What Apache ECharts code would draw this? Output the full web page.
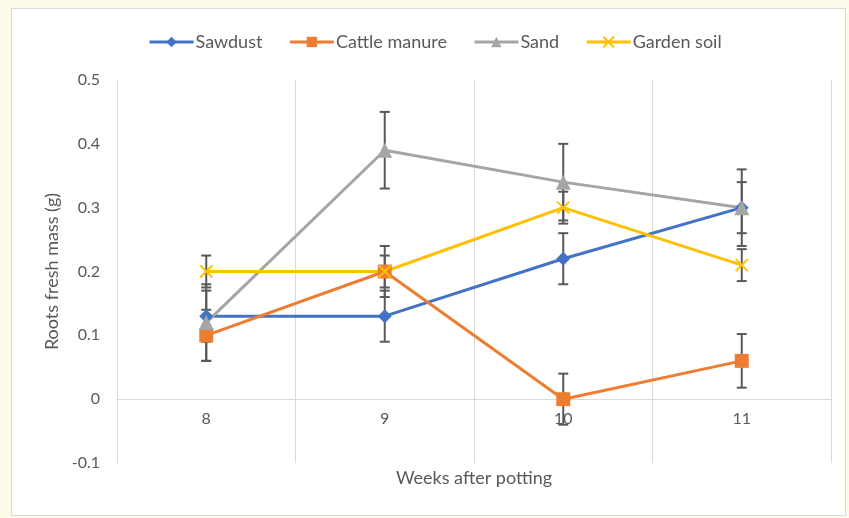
<!DOCTYPE html>
<html>
<head>
<meta charset="utf-8">
<script src="https://cdn.jsdelivr.net/npm/echarts@6/dist/echarts.min.js"></script>
<style>
  html, body { margin: 0; padding: 0; background: #fffbea; }
  #frame { position: absolute; left: 11px; top: 8px; width: 833px; height: 506px;
           background: #ffffff; border: 1px solid #d9d9d9; }
  #chart { position: absolute; left: 0; top: 0; width: 849px; height: 518px; }
</style>
</head>
<body>
<div id="frame"></div>
<div id="chart"></div>
<script>
// Weeks after potting
const weeks = ['8', '9', '10', '11'];

// Mean root fresh mass (g) per substrate
const sawdust = [0.13, 0.13, 0.22, 0.30];
const cattleManure = [0.10, 0.20, 0.00, 0.06];
const sand = [0.12, 0.39, 0.34, 0.30];
const gardenSoil = [0.20, 0.20, 0.30, 0.21];

// Error bar half-widths (g)
const sawdustErr = [0.04, 0.04, 0.04, 0.04];
const cattleManureErr = [0.04, 0.04, 0.04, 0.042];
const sandErr = [0.06, 0.06, 0.06, 0.06];
const gardenSoilErr = [0.025, 0.025, 0.025, 0.025];

const textColor = '#595959';
const gridColor = '#d9d9d9';
const font = 'Lato';

const seriesDefs = [
  { name: 'Sawdust', data: sawdust, err: sawdustErr, color: '#4472C4', symbol: 'diamond', size: 14 },
  { name: 'Cattle manure', data: cattleManure, err: cattleManureErr, color: '#ED7D31', symbol: 'rect', size: 14 },
  { name: 'Sand', data: sand, err: sandErr, color: '#A5A5A5', symbol: 'triangle', size: 15 },
  { name: 'Garden soil', data: gardenSoil, err: gardenSoilErr, color: '#FFC000', symbol: 'path://M0,0L10,10M0,10L10,0', size: 12 }
];

// [category index, low, high] for every error bar
const errorBars = [];
seriesDefs.forEach(s => {
  s.data.forEach((v, i) => errorBars.push([i, v - s.err[i], v + s.err[i]]));
});

const chart = echarts.init(document.getElementById('chart'), null, { renderer: 'canvas' });

const lineSeries = seriesDefs.map(s => ({
  name: s.name,
  type: 'line',
  data: s.data,
  symbol: s.symbol,
  symbolSize: s.size,
  showAllSymbol: true,
  z: 3,
  lineStyle: { color: s.color, width: 3 },
  itemStyle: s.symbol.startsWith('path')
    ? { color: s.color, borderColor: s.color, borderWidth: 2 }
    : { color: s.color, borderWidth: 0 },
  emphasis: { disabled: true }
}));

const errorSeries = {
  type: 'custom',
  z: 2,
  silent: true,
  data: errorBars,
  encode: { x: 0, y: [1, 2] },
  renderItem: function (params, api) {
    const lo = api.coord([api.value(0), api.value(1)]);
    const hi = api.coord([api.value(0), api.value(2)]);
    const cap = 5;
    const style = { stroke: '#595959', lineWidth: 2 };
    return {
      type: 'group',
      children: [
        { type: 'line', shape: { x1: lo[0], y1: lo[1], x2: hi[0], y2: hi[1] }, style: style },
        { type: 'line', shape: { x1: lo[0] - cap, y1: lo[1], x2: lo[0] + cap, y2: lo[1] }, style: style },
        { type: 'line', shape: { x1: hi[0] - cap, y1: hi[1], x2: hi[0] + cap, y2: hi[1] }, style: style }
      ]
    };
  }
};

chart.setOption({
  animation: false,
  backgroundColor: 'transparent',
  legend: {
    top: 28,
    left: 143,
    itemWidth: 44,
    itemHeight: 13,
    itemGap: 26,
    data: seriesDefs.map(s => s.name),
    lineStyle: { width: 3 },
    textStyle: { color: textColor, fontFamily: font, fontSize: 18, padding: [0, 0, 0, -3] }
  },
  grid: { left: 117, right: 18, top: 80, bottom: 55, containLabel: false, outerBoundsMode: 'none' },
  xAxis: {
    type: 'category',
    data: weeks,
    boundaryGap: true,
    axisLine: { onZero: true, lineStyle: { color: gridColor, width: 1 } },
    axisTick: { show: false },
    axisLabel: { color: textColor, fontFamily: font, fontSize: 16, margin: -52 },
    splitLine: { show: true, lineStyle: { color: gridColor, width: 1 } },
    name: 'Weeks after potting',
    nameLocation: 'middle',
    nameGap: 6,
    nameTextStyle: { color: textColor, fontFamily: font, fontSize: 18 }
  },
  yAxis: {
    type: 'value',
    min: -0.1,
    max: 0.5,
    interval: 0.1,
    axisLine: { show: false },
    axisTick: { show: false },
    splitLine: { show: false },
    axisLabel: {
      color: textColor, fontFamily: font, fontSize: 16, margin: 17,
      formatter: v => (Math.abs(v) < 1e-9 ? '0' : (Math.round(v * 10) / 10).toString())
    },
    name: 'Roots fresh mass (g)',
    nameLocation: 'middle',
    nameGap: 56,
    nameTextStyle: { color: textColor, fontFamily: font, fontSize: 18 }
  },
  series: [errorSeries].concat(lineSeries)
});
</script>
</body>
</html>
